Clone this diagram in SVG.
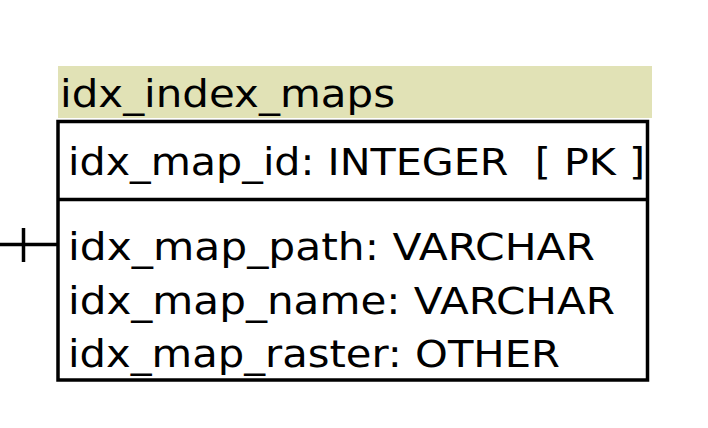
<svg xmlns="http://www.w3.org/2000/svg" width="708" height="428" viewBox="0 0 708 428">
<style>
text{font-family:"DejaVu Sans","Liberation Sans",sans-serif;font-size:37px;fill:#000;white-space:pre}
.ln{stroke:#000;stroke-width:3.5;fill:none}
</style>
<rect width="708" height="428" fill="#fff"/>
<g id="connectors">
<line class="ln" x1="0" y1="244.5" x2="58" y2="244.5"/>
<line class="ln" x1="23.5" y1="228" x2="23.5" y2="262"/>
</g>
<g id="idx_index_maps">
<rect x="58" y="66" width="594" height="52" fill="#e1e2b6"/>
<text x="60" y="107" textLength="335" lengthAdjust="spacingAndGlyphs">idx_index_maps</text>
<rect class="ln" x="58" y="121.5" width="589.5" height="258.5" fill="#fff"/>
<line class="ln" x1="58" y1="199.5" x2="647.5" y2="199.5"/>
<text x="68" y="175" textLength="577" lengthAdjust="spacingAndGlyphs" xml:space="preserve">idx_map_id: INTEGER  [ PK ]</text>
<text x="68" y="260" textLength="527" lengthAdjust="spacingAndGlyphs">idx_map_path: VARCHAR</text>
<text x="68" y="313.5" textLength="547" lengthAdjust="spacingAndGlyphs">idx_map_name: VARCHAR</text>
<text x="68" y="367" textLength="492" lengthAdjust="spacingAndGlyphs">idx_map_raster: OTHER</text>
</g>
</svg>
